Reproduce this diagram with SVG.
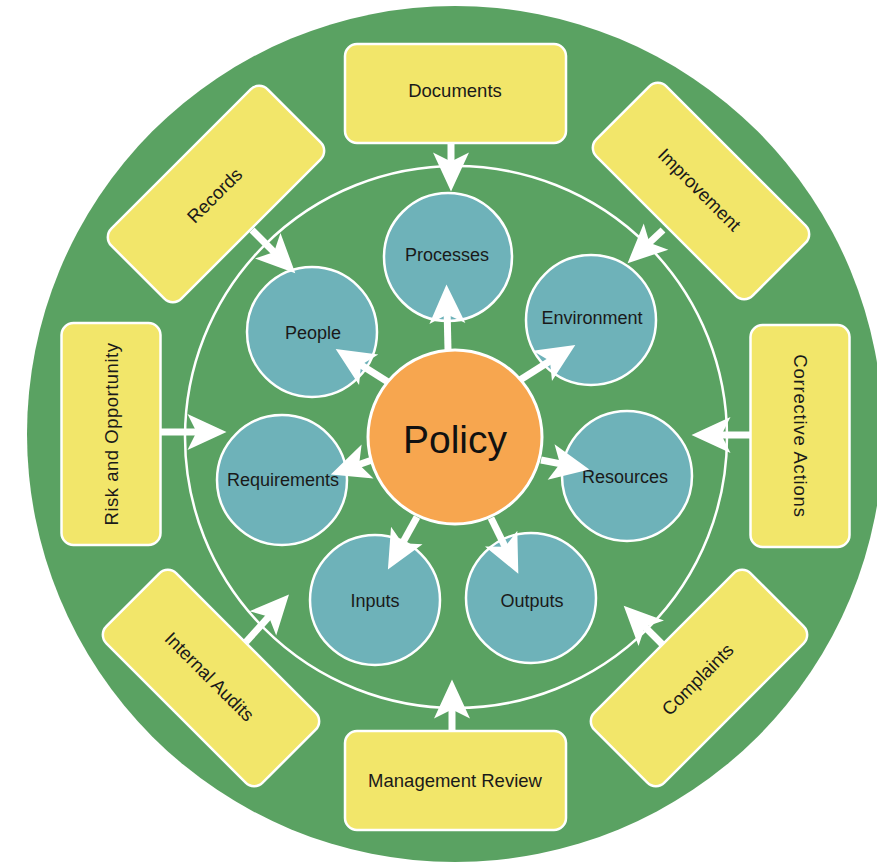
<svg xmlns="http://www.w3.org/2000/svg" width="877" height="863" viewBox="0 0 877 863">
<style>
.box{fill:#F2E66A;stroke:#fff;stroke-width:2.5}
.bub{fill:#6EB2B9;stroke:#fff;stroke-width:2.5}
.lbl{font-family:"Liberation Sans",Arial,sans-serif;font-size:18px;fill:#1a1a1a;text-anchor:middle;dominant-baseline:central}
.blbl{font-family:"Liberation Sans",Arial,sans-serif;font-size:18.5px;fill:#1a1a1a;text-anchor:middle;dominant-baseline:central}
.arr{stroke:#fff;stroke-width:7;fill:none;marker-end:url(#ah)}
</style>
<defs>
<marker id="ah" markerUnits="userSpaceOnUse" orient="auto" refX="5" refY="0" markerWidth="60" markerHeight="60" viewBox="-10 -15 40 30" overflow="visible">
<path d="M-6,-12 L20,0 L-6,12 L0,0 Z" fill="#fff"/>
</marker>
</defs>
<circle cx="455" cy="434" r="428" fill="#5AA262"/>
<circle cx="456" cy="437" r="271" fill="none" stroke="#fff" stroke-width="2.5"/>

<g id="processes"><circle class="bub" cx="448" cy="257" r="64"/><text class="lbl" x="447" y="255">Processes</text></g>
<g id="environment"><circle class="bub" cx="591" cy="320" r="65"/><text class="lbl" x="592" y="318">Environment</text></g>
<g id="resources"><circle class="bub" cx="627" cy="476" r="65"/><text class="lbl" x="625" y="477">Resources</text></g>
<g id="outputs"><circle class="bub" cx="531" cy="598" r="65"/><text class="lbl" x="532" y="601">Outputs</text></g>
<g id="inputs"><circle class="bub" cx="375" cy="600" r="65"/><text class="lbl" x="375" y="601">Inputs</text></g>
<g id="requirements"><circle class="bub" cx="282" cy="480" r="65"/><text class="lbl" x="283" y="480">Requirements</text></g>
<g id="people"><circle class="bub" cx="312" cy="332" r="65"/><text class="lbl" x="313" y="333">People</text></g>

<g id="policy"><circle cx="455" cy="437" r="87" fill="#F7A64F" stroke="#fff" stroke-width="3"/><text x="455" y="439" font-family="'Liberation Sans',Arial,sans-serif" font-size="39" fill="#111" text-anchor="middle" dominant-baseline="central">Policy</text></g>

<g id="documents"><rect class="box" x="345" y="44" width="221" height="99" rx="12"/><text class="blbl" x="455" y="90">Documents</text></g>
<g id="management-review"><rect class="box" x="345" y="731" width="221" height="99" rx="12"/><text class="blbl" x="455" y="780">Management Review</text></g>
<g id="risk-opportunity" transform="translate(111,434) rotate(-90)"><rect class="box" x="-111" y="-49.5" width="222" height="99" rx="12"/><text class="blbl" x="0" y="0" letter-spacing="0.5">Risk and Opportunity</text></g>
<g id="corrective-actions" transform="translate(800,436) rotate(90)"><rect class="box" x="-111" y="-49.5" width="222" height="99" rx="12"/><text class="blbl" x="0" y="0" letter-spacing="0.8">Corrective Actions</text></g>
<g id="records" transform="translate(216,194) rotate(-45)"><rect class="box" x="-110.5" y="-49.5" width="221" height="99" rx="12"/><text class="blbl" x="-2" y="0">Records</text></g>
<g id="improvement" transform="translate(701,191) rotate(45)"><rect class="box" x="-110.5" y="-49.5" width="221" height="99" rx="12"/><text class="blbl" x="-2" y="0">Improvement</text></g>
<g id="internal-audits" transform="translate(211,678) rotate(45)"><rect class="box" x="-110.5" y="-49.5" width="221" height="99" rx="12"/><text class="blbl" x="-2" y="0">Internal Audits</text></g>
<g id="complaints" transform="translate(699,678) rotate(-45)"><rect class="box" x="-110.5" y="-49.5" width="221" height="99" rx="12"/><text class="blbl" x="-2" y="0">Complaints</text></g>

<g id="connectors">
<path class="arr" d="M451,143 L451,169"/>
<path class="arr" d="M452,731 L452,702"/>
<path class="arr" d="M160,432 L204,432"/>
<path class="arr" d="M750,435 L714,435"/>
<path class="arr" d="M252,230 L279.4,257.4"/>
<path class="arr" d="M663,230 L644,247.8"/>
<path class="arr" d="M246,642 L273.9,611.1"/>
<path class="arr" d="M663,645 L639.6,621.6"/>
<path class="arr" d="M448,350 L447,307"/>
<path class="arr" d="M520,380 L556.3,357"/>
<path class="arr" d="M541,460 L567.3,465.1"/>
<path class="arr" d="M491,518 L508.4,553.5"/>
<path class="arr" d="M417,517 L398.8,549.9"/>
<path class="arr" d="M372,460 L352,467"/>
<path class="arr" d="M388,382 L354.7,361"/>
</g>
</svg>
